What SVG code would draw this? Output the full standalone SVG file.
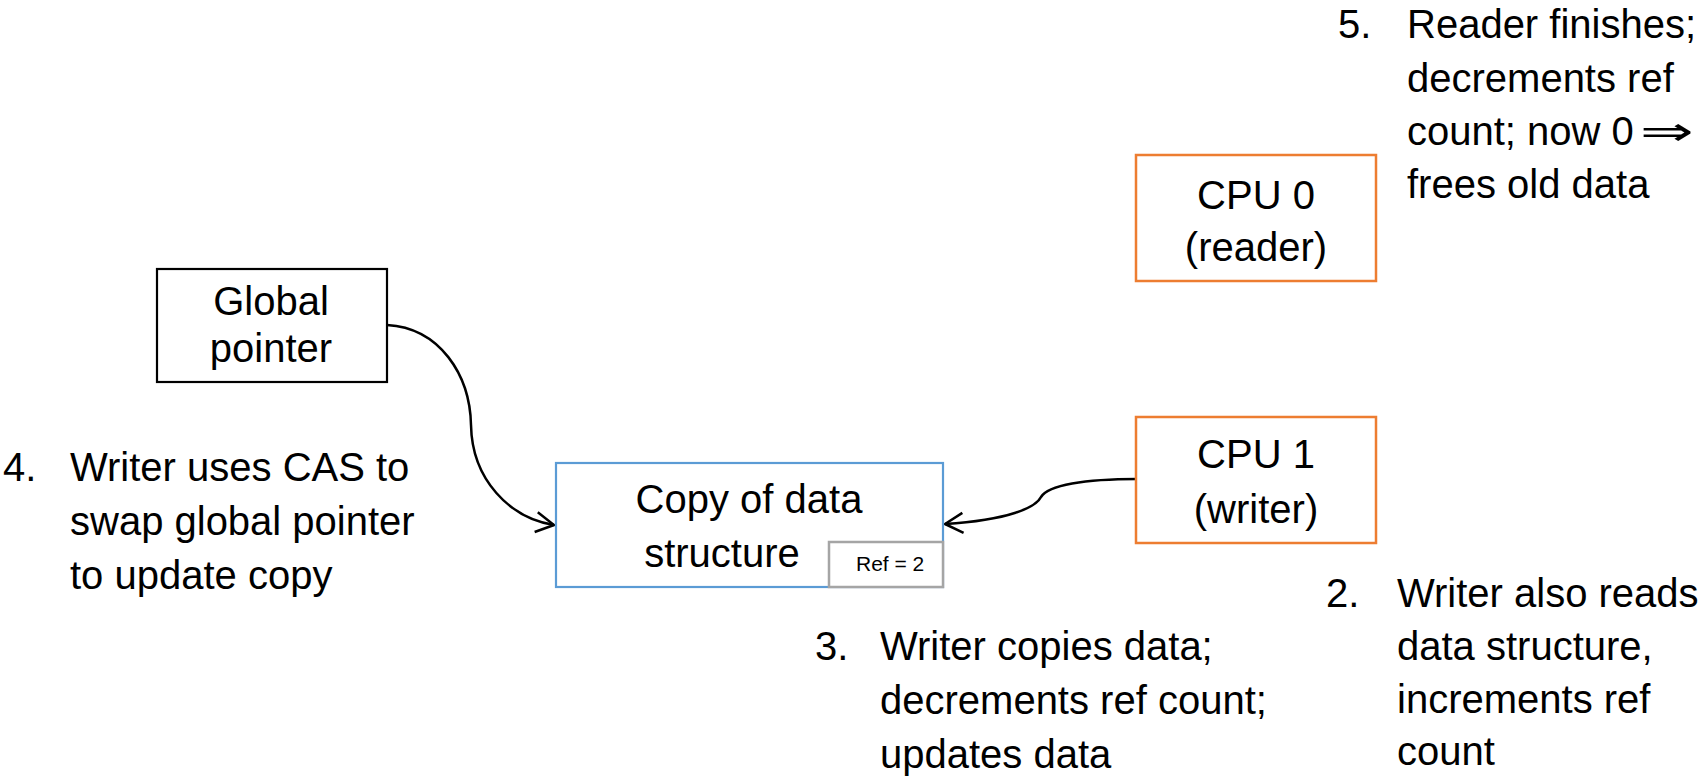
<svg xmlns="http://www.w3.org/2000/svg" width="1700" height="784" viewBox="0 0 1700 784">
<style>
text{font-family:"Liberation Sans","DejaVu Sans",Arial,sans-serif;font-size:40px;fill:#000}
.c{text-anchor:middle}
.small{font-size:21px}
.sym{font-family:"DejaVu Sans",sans-serif}
.box{fill:#fff;stroke-width:2.2}
.blk{stroke:#000}
.org{stroke:#ED7D31;stroke-width:2.5}
.blu{stroke:#5B9BD5}
.gry{stroke:#A5A5A5;stroke-width:2.5}
.conn{fill:none;stroke:#000;stroke-width:2.5}
</style>
<defs>
<marker id="arr" markerUnits="userSpaceOnUse" markerWidth="24" markerHeight="26" refX="20" refY="12" orient="auto" viewBox="0 0 24 24">
<path d="M2 2 L20 12 L2 22" fill="none" stroke="#000" stroke-width="2.5"/>
</marker>
</defs>
<g id="connectors">
<path class="conn" d="M387 325 C 440 328, 470 375, 471 425 C 472 480, 510 518, 554 525" marker-end="url(#arr)"/>
<path class="conn" d="M1137 479 C 1085 479, 1048 485, 1041 497 C 1036 507, 1010 520, 945 524" marker-end="url(#arr)"/>
</g>
<g id="global-pointer">
<rect class="box blk" x="157" y="269" width="230" height="113"/>
<text class="c" x="271" y="315">Global</text>
<text class="c" x="271" y="362">pointer</text>
</g>
<g id="cpu0">
<rect class="box org" x="1136" y="155" width="240" height="126"/>
<text class="c" x="1256" y="209">CPU 0</text>
<text class="c" x="1256" y="261">(reader)</text>
</g>
<g id="cpu1">
<rect class="box org" x="1136" y="417" width="240" height="126"/>
<text class="c" x="1256" y="468">CPU 1</text>
<text class="c" x="1256" y="523">(writer)</text>
</g>
<g id="copy">
<rect class="box blu" x="556" y="463" width="387" height="124"/>
<text class="c" x="749" y="513">Copy of data</text>
<text class="c" x="722" y="567">structure</text>
</g>
<g id="ref">
<rect class="box gry" x="829" y="542" width="114" height="45"/>
<text class="small" x="856" y="571">Ref = 2</text>
</g>
<g id="note5">
<text x="1338" y="38">5.</text>
<text x="1407" y="38">Reader finishes;</text>
<text x="1407" y="92">decrements ref</text>
<text x="1407" y="145">count; now 0</text>
<text class="sym" transform="translate(1640,145) scale(1.6,1)">⇒</text>
<text x="1407" y="198">frees old data</text>
</g>
<g id="note4">
<text x="3" y="481">4.</text>
<text x="70" y="481">Writer uses CAS to</text>
<text x="70" y="535">swap global pointer</text>
<text x="70" y="589">to update copy</text>
</g>
<g id="note3">
<text x="815" y="660">3.</text>
<text x="880" y="660">Writer copies data;</text>
<text x="880" y="714">decrements ref count;</text>
<text x="880" y="768">updates data</text>
</g>
<g id="note2">
<text x="1326" y="607">2.</text>
<text x="1397" y="607">Writer also reads</text>
<text x="1397" y="660">data structure,</text>
<text x="1397" y="713">increments ref</text>
<text x="1397" y="765">count</text>
</g>
</svg>
